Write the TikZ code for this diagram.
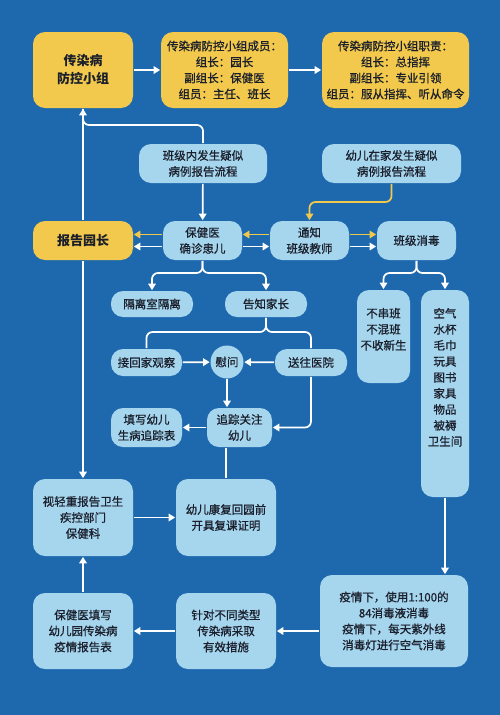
\documentclass[tikz,border=0pt]{standalone}
\usepackage{fontspec}
\setmainfont{Noto Sans CJK SC}[UprightFeatures={FakeBold=0.8}]
\usetikzlibrary{arrows.meta,positioning}
\definecolor{cBg}{HTML}{1E69AE}
\definecolor{cYel}{HTML}{F2C94C}
\definecolor{cPale}{HTML}{A6D5EE}
\definecolor{cInk}{HTML}{1A1F2B}
\tikzset{
  every picture/.style={line width=1.7pt},
  box/.style={rectangle, rounded corners=12pt, align=center, inner sep=0pt,
              text=cInk, font=\fontsize{11.5}{16}\selectfont},
  pbox/.style={box, fill=cPale},
  ybox/.style={box, fill=cYel},
  hbox/.style={ybox, font=\fontsize{13}{18}\selectfont\bfseries},
  flow/.style={-{Triangle[length=6.5pt,width=7.5pt]}, draw=white},
  yflow/.style={flow, draw=cYel},
  wline/.style={draw=white},
}

\begin{document}
\begin{tikzpicture}[x=1pt,y=-1pt]
\useasboundingbox[fill=cBg] (0,0) rectangle (500,715);

% ------------------------------------------------------------ the group
\node[hbox, minimum width=100, minimum height=76] (grp) at (83,70) {传染病\\防控小组};
\node[ybox, minimum width=127, minimum height=76] (mem) at (224.5,70)
      {传染病防控小组成员：\\组长：园长\\副组长：保健医\\组员：主任、班长};
\node[ybox, minimum width=147, minimum height=76] (duty) at (395.5,70)
      {传染病防控小组职责：\\组长：总指挥\\副组长：专业引领\\组员：服从指挥、听从命令};
\draw[flow] (grp) -- (mem);
\draw[flow] (mem) -- (duty);

% ------------------------------------------------------------ where a case starts
\node[pbox, minimum width=128, minimum height=39] (inrep) at (203,163.5) {班级内发生疑似\\病例报告流程};
\node[pbox, minimum width=139, minimum height=39] (homerep) at (391.5,163.5) {幼儿在家发生疑似\\病例报告流程};

\node[hbox, minimum width=100, minimum height=39] (head) at (83,240.5) {报告园长};
\node[pbox, minimum width=79, minimum height=39] (doc) at (202.5,240.5) {保健医\\确诊患儿};
\node[pbox, minimum width=79, minimum height=39] (tchr) at (309.5,240.5) {通知\\班级教师};
\node[pbox, minimum width=79, minimum height=39] (dis) at (416.5,240.5) {班级消毒};

\coordinate (upj) at (83,125);
\draw[wline, rounded corners=6pt] (inrep.north) |- (upj) -- (grp.south);
\draw[flow] (head) -- (grp);
\draw[flow] (inrep) -- (doc);
\coordinate (hj) at (391.5,202);
\draw[yflow, rounded corners=6pt] (homerep.south) -- (hj) -| (tchr.north);

% the home case (yellow) and the class case (white)
\draw[yflow] ([yshift=6pt]doc.west) -- ([yshift=6pt]head.east);
\draw[flow] ([yshift=-6pt]doc.west) -- ([yshift=-6pt]head.east);
\draw[yflow] ([yshift=6pt]tchr.west) -- ([yshift=6pt]doc.east);
\draw[flow] ([yshift=-6pt]doc.east) -- ([yshift=-6pt]tchr.west);
\draw[yflow] ([yshift=6pt]tchr.east) -- ([yshift=6pt]dis.west);
\draw[flow] ([yshift=-6pt]tchr.east) -- ([yshift=-6pt]dis.west);

% ------------------------------------------------------------ the child
\node[pbox, minimum width=82, minimum height=26] (iso) at (152,304) {隔离室隔离};
\node[pbox, minimum width=82, minimum height=26] (par) at (266,304) {告知家长};
\coordinate (dj) at (202.5,273);
\draw[flow, rounded corners=6pt] (doc.south) -- (dj) -| (iso.north);
\draw[flow, rounded corners=6pt] (doc.south) -- (dj) -| (par.north);

\node[pbox, minimum width=71, minimum height=27] (home) at (146.5,362.5) {接回家观察};
\node[pbox, circle, sharp corners, minimum size=33] (visit) at (227,362) {慰问};
\node[pbox, minimum width=72, minimum height=27] (hosp) at (311,362.5) {送往医院};
\coordinate (pj) at (266,332);
\draw[wline, rounded corners=6pt] (par.south) -- (pj) -| (home.north);
\draw[wline, rounded corners=6pt] (par.south) -- (pj) -| (hosp.north);
\draw[flow] (home) -- (visit);
\draw[flow] (hosp) -- (visit);

\node[pbox, minimum width=65, minimum height=39] (track) at (239.5,427.5) {追踪关注\\幼儿};
\node[pbox, minimum width=71, minimum height=39] (form) at (146.5,427.5) {填写幼儿\\生病追踪表};
\draw[flow] (visit.south) -- (visit.south |- track.north);
\draw[flow, rounded corners=6pt] (hosp.south) |- (track.east);
\draw[flow] (track) -- (form);

% ------------------------------------------------------------ the class
\node[pbox, minimum width=53, minimum height=93] (rule) at (383.5,336.5) {};
\node[box, anchor=north] (ruletxt) at ([yshift=-18pt]rule.north) {不串班\\不混班\\不收新生};
\node[pbox, minimum width=48, minimum height=207] (items) at (445,393.5) {};
\node[box, anchor=north] (itemtxt) at ([yshift=-18pt]items.north)
      {空气\\水杯\\毛巾\\玩具\\图书\\家具\\物品\\被褥\\卫生间};
\coordinate (sj) at (416.5,273);
\draw[flow, rounded corners=6pt] (dis.south) -- (sj) -| (rule.north);
\draw[flow, rounded corners=6pt] (dis.south) -- (sj) -| (items.north);

% ------------------------------------------------------------ closing the loop
\node[pbox, minimum width=100, minimum height=77] (cdc) at (83,517.5) {视轻重报告卫生\\疾控部门\\保健科};
\node[pbox, minimum width=100, minimum height=77] (back) at (226,517.5) {幼儿康复回园前\\开具复课证明};
\node[pbox, minimum width=148, minimum height=92] (epi) at (394,621)
      {疫情下，使用1:100的\\84消毒液消毒\\疫情下，每天紫外线\\消毒灯进行空气消毒};
\node[pbox, minimum width=100, minimum height=76] (act) at (226,631) {针对不同类型\\传染病采取\\有效措施};
\node[pbox, minimum width=100, minimum height=76] (tbl) at (83,631) {保健医填写\\幼儿园传染病\\疫情报告表};

\draw[flow] (head) -- (cdc);
\draw[wline] (track.south -| back.north) -- (back.north);
\draw[flow] (cdc) -- (back);
\draw[flow] (items.south) -- (items.south |- epi.north);
\draw[flow] (epi.west |- act.east) -- (act.east);
\draw[flow] (act) -- (tbl);
\draw[flow] (tbl) -- (cdc);

\end{tikzpicture}
\end{document}
